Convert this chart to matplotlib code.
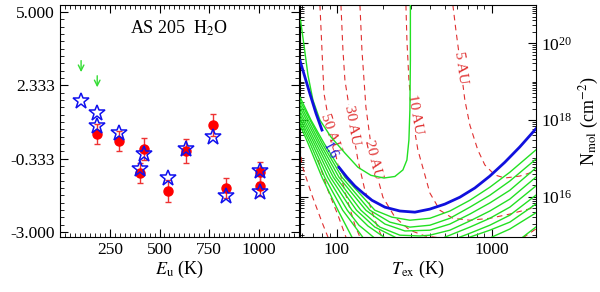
import numpy as np
import matplotlib
matplotlib.use('Agg')
import matplotlib.pyplot as plt
from matplotlib.ticker import FixedLocator, AutoMinorLocator, LogLocator, NullFormatter

plt.rcParams['font.family'] = ['Liberation Serif', 'DejaVu Serif']
plt.rcParams['mathtext.fontset'] = 'stix'
plt.rcParams['xtick.direction'] = 'in'
plt.rcParams['ytick.direction'] = 'in'

# ---- left panel: line fluxes vs upper level energy
star_E = [106, 187, 187, 298, 404, 424, 544, 631, 770, 833, 1005, 1005]
star_y = [1.76, 1.33, 0.85, 0.60, -0.71, -0.16, -1.04, 0.02, 0.44, -1.68, -0.77, -1.53]
obs_E = [187, 298, 404, 424, 544, 631, 770, 833, 1005, 1005]
obs_y = [0.56, 0.31, -0.85, 0.02, -1.51, -0.05, 0.89, -1.39, -0.81, -1.32]
obs_err = [0.36, 0.38, 0.36, 0.40, 0.40, 0.45, 0.40, 0.36, 0.36, 0.36]
lim_E = [106, 187]
lim_y = [3.33, 2.78]
ytick_vals = [-3.0, -0.333, 2.333, 5.0]
ytick_labels = ['-3.000', '-0.333', '2.333', '5.000']

# ---- right panel: contours in (T_ex, log N_mol)
blue_T1 = [58.0, 62.4, 67.3, 73.5, 80.4]
blue_logN1 = [19.55, 19.12, 18.68, 18.18, 17.74]
blue_T2 = [103.5, 116.5, 131.2, 147.8, 169.0, 205.0, 256.1, 320.1, 399.8, 499.6,
           624.6, 780.4, 975.0, 1218, 1522, 1931]
blue_logN2 = [16.77, 16.51, 16.28, 16.10, 15.91, 15.73, 15.63, 15.60, 15.68, 15.81,
              15.99, 16.23, 16.54, 16.90, 17.30, 17.77]

inner_T = [58.4, 61.5, 65.3, 70.3, 78.0, 91.9, 113.1, 137.2, 166.5, 202.0, 237.7,
           267.7, 284.2, 292.8, 297.1, 299.3, 299.3]
inner_logN = [20.61, 19.96, 19.17, 18.52, 18.00, 17.56, 17.14, 16.77, 16.56, 16.49, 16.53,
              16.70, 16.96, 17.48, 18.26, 19.56, 21.0]

nan = np.nan
g0_T = [58.0, 68.3, 82.8, 113.1, 176.6, 227.5, 297.1, 399.8, 538.3, 724.4, 975.0, 1312, 1931]
g0_logN = [18.60, 18.00, 17.40, 16.51, 15.65, 15.47, 15.39, 15.44, 15.63, 15.91, 16.25, 16.64, 17.22]
g1_T = [58.0, 80.4, 108.2, 164.0, 220.8, 297.1, 399.8, 538.3, 724.4, 975.0, 1312, 1931]
g1_logN = [18.51, 17.40, 16.51, 15.65, 15.34, 15.21, 15.26, 15.44, 15.73, 16.04, 16.41, 16.98]
g2_T = [58.0, 78.0, 103.5, 154.5, 205.0, 275.8, 399.8, 538.3, 724.4, 975.0, 1312, 1931]
g2_logN = [18.42, 17.40, 16.51, 15.65, 15.29, 15.11, 15.13, 15.29, 15.55, 15.84, 16.17, 16.75]
g3_T = [58.0, 75.8, 99.0, 143.5, 190.3, 256.1, 344.6, 399.8, 538.3, 724.4, 975.0, 1312, 1931]
g3_logN = [18.33, 17.40, 16.51, 15.65, 15.21, 15.00, 14.98, 15.00, 15.13, 15.37, 15.63, 15.94, 16.51]
g4_T = [58.0, 73.5, 95.2, 134.4, 176.6, 237.7, nan, 499.6, 538.3, 724.4, 975.0, 1312, 1931]
g4_logN = [18.23, 17.40, 16.51, 15.65, 15.21, 14.95, nan, 14.95, 15.00, 15.21, 15.44, 15.73, 16.28]
g5_T = [58.0, 71.4, 91.2, 125.5, 159.2, 202.0, nan, 624.6, 724.4, 975.0, 1312, 1931]
g5_logN = [18.14, 17.40, 16.51, 15.65, 15.24, 14.95, nan, 14.95, 15.05, 15.26, 15.52, 16.04]
g6_T = [58.0, 69.3, 87.4, 117.2, 139.3, 172.8, nan, 724.4, 975.0, 1312, 1931]
g6_logN = [18.05, 17.40, 16.51, 15.65, 15.26, 14.95, nan, 14.95, 15.13, 15.34, 15.81]
g7_T = [58.0, 67.3, 83.7, 109.5, 147.3, nan, 1004, 1312, 1931]
g7_logN = [17.96, 17.40, 16.51, 15.65, 14.95, nan, 14.95, 15.16, 15.58]
g8_T = [58.0, 65.3, 80.4, 102.0, 125.5, nan, 1592, 1931]
g8_logN = [17.87, 17.40, 16.51, 15.65, 14.95, nan, 14.95, 15.21]

r5_T = [562.8, 588.5, 624.6, 672.6, 724.4, 815.6, 905.2, 1050, 1218, 1522, 1931]
r5_logN = [21.0, 20.35, 19.56, 18.52, 17.87, 17.22, 16.83, 16.57, 16.49, 16.54, 16.67]
r10_T = [280.1, 284.2, 292.8, 306.1, 334.6, 371.3, 399.8, 464.0, 562.8, 724.4, 975.0, 1312, 1931]
r10_logN = [21.0, 20.09, 19.04, 18.16, 17.22, 16.57, 16.10, 15.65, 15.44, 15.39, 15.44, 15.55, 15.73]
r20_T = [141.4, 145.6, 154.5, 171.5, 198.9, 237.7, 297.1, 371.3, 464.0, nan, 1592, 1931]
r20_logN = [21.0, 19.83, 18.34, 16.96, 15.99, 15.47, 15.13, 14.98, 14.93, nan, 14.93, 15.16]
r30_T = [106.6, 109.8, 113.1, 125.5, 137.2, 152.2, 176.6, 196.0]
r30_logN = [21.0, 19.83, 19.04, 17.87, 16.96, 16.17, 15.39, 14.95]
r50_T = [78.0, 80.4, 82.8, 91.9, 102.0, 114.8, 131.2, 141.4]
r50_logN = [21.0, 19.83, 18.70, 17.66, 16.83, 16.04, 15.26, 14.95]
rx1_T = [58.0, 59.7, 69.3, 80.4, 87.9]
rx1_logN = [17.30, 16.83, 16.04, 15.34, 14.95]
rx2_T = [75.8, 87.9, 102.0, 114.8]
rx2_logN = [16.96, 16.17, 15.52, 14.95]

au_labels = ['5 AU', '10 AU', '20 AU', '30 AU', '50 AU']
au_T = [634, 318, 171.5, 125.5, 91.9]
au_logN = [19.36, 18.16, 16.96, 17.87, 17.66]
au_rot = [-82, -80, -76, -80, -72]

fig = plt.figure(figsize=(6.0, 2.92), dpi=100)
ax1 = fig.add_axes([0.100, 0.188, 0.398, 0.795])
ax2 = fig.add_axes([0.500, 0.188, 0.393, 0.795])

# left panel
ax1.errorbar(obs_E, obs_y, yerr=obs_err, fmt='o', color='red', ms=6.5,
             ecolor='#ee3333', elinewidth=1.0, capsize=2.5, zorder=2)
ax1.plot(star_E, star_y, '*', ms=12, mfc='none', mec='#1010ee', mew=1.1, zorder=3)
for e, y in zip(lim_E, lim_y):
    ax1.annotate('', xy=(e, y - 0.62), xytext=(e, y),
                 arrowprops=dict(arrowstyle='->', color='#33dd33', lw=1.0))
ax1.text(0.5, 0.9, 'AS 205  H$_2$O', transform=ax1.transAxes, ha='center',
         va='center', fontsize=13)
ax1.set_xlim(0, 1200)
ax1.set_ylim(-3.18, 5.25)
ax1.xaxis.set_major_locator(FixedLocator([250, 500, 750, 1000]))
ax1.xaxis.set_minor_locator(AutoMinorLocator(10))
ax1.yaxis.set_major_locator(FixedLocator(ytick_vals))
ax1.set_yticklabels(ytick_labels)
ax1.yaxis.set_minor_locator(AutoMinorLocator(10))
ax1.set_xlabel('$E_{\\rm u}$ (K)', fontsize=13, labelpad=1)
ax1.tick_params(which='both', top=True, right=True, labelsize=12.5)
ax1.tick_params(which='major', length=6)
ax1.tick_params(which='minor', length=3)

# right panel
green = '#22e022'
red = '#e03030'
for T, lN in [(r5_T, r5_logN), (r10_T, r10_logN), (r20_T, r20_logN), (r30_T, r30_logN),
              (r50_T, r50_logN), (rx1_T, rx1_logN), (rx2_T, rx2_logN)]:
    ax2.plot(T, 10 ** np.array(lN), color=red, lw=0.8, ls=(0, (5, 4)), zorder=2)
for lab, t, n, r in zip(au_labels, au_T, au_logN, au_rot):
    ax2.text(t, 10 ** n, lab, color=red, fontsize=11, rotation=r, ha='center',
             va='center', zorder=2.5,
             bbox=dict(facecolor='white', edgecolor='none', pad=0.5))
for T, lN in [(inner_T, inner_logN), (g0_T, g0_logN), (g1_T, g1_logN), (g2_T, g2_logN),
              (g3_T, g3_logN), (g4_T, g4_logN), (g5_T, g5_logN), (g6_T, g6_logN),
              (g7_T, g7_logN), (g8_T, g8_logN)]:
    ax2.plot(T, 10 ** np.array(lN), color=green, lw=1.0, zorder=3)
ax2.plot(blue_T1, 10 ** np.array(blue_logN1), color='#1010dd', lw=2.0, zorder=4)
ax2.plot(blue_T2, 10 ** np.array(blue_logN2), color='#1010dd', lw=2.0, zorder=4)
ax2.text(90.5, 10 ** 17.2, '1.6', color='#1010dd', fontsize=10, rotation=-62,
         ha='center', va='center', zorder=4)

ax2.set_xscale('log')
ax2.set_yscale('log')
ax2.set_xlim(58, 1931)
ax2.set_ylim(10 ** 14.95, 1e21)
ax2.xaxis.set_major_locator(FixedLocator([100, 1000]))
ax2.set_xticklabels(['100', '1000'])
ax2.xaxis.set_minor_locator(LogLocator(base=10, subs=np.arange(2, 10)))
ax2.xaxis.set_minor_formatter(NullFormatter())
ax2.yaxis.set_major_locator(FixedLocator([1e16, 1e18, 1e20]))
ax2.yaxis.set_minor_locator(LogLocator(base=10, subs=np.arange(1, 10), numticks=20))
ax2.yaxis.set_minor_formatter(NullFormatter())
ax2.yaxis.tick_right()
ax2.yaxis.set_label_position('right')
ax2.tick_params(which='both', top=True, left=True, right=True, labelleft=False,
                labelright=True, labelsize=12.5)
ax2.tick_params(which='major', length=6)
ax2.tick_params(which='minor', length=3)
ax2.set_xlabel('$T_{\\rm ex}$ (K)', fontsize=13, labelpad=1)
ax2.set_ylabel('N$_{\\rm mol}$ (cm$^{-2}$)', fontsize=13, labelpad=4)

fig.savefig('out.png', dpi=100)
